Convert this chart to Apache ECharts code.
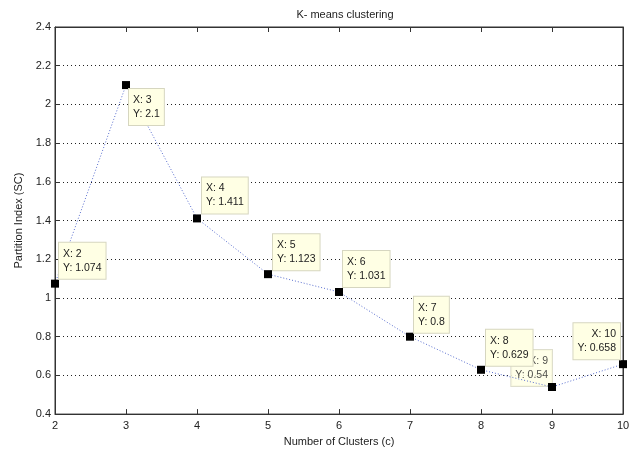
<!DOCTYPE html>
<html>
<head>
<meta charset="utf-8">
<script src="https://cdn.jsdelivr.net/npm/echarts@6/dist/echarts.min.js"></script>
<style>
  html, body { margin: 0; padding: 0; background: #fff; }
  #chart { width: 638px; height: 452px; }
</style>
</head>
<body>
<div id="chart"></div>
<script>
// Number of clusters and partition index values
const clusters = [2, 3, 4, 5, 6, 7, 8, 9, 10];
const partitionIndex = [1.074, 2.1, 1.411, 1.123, 1.031, 0.8, 0.629, 0.54, 0.658];

// Axis ranges
const xRange = [2, 10];
const yRange = [0.4, 2.4];

// Where each data tip sits relative to its marker
const tipPlacement = {
  2: { pos: [8, -37], align: 'left' },
  3: { pos: [7, 8], align: 'left' },
  4: { pos: [9, -37], align: 'left' },
  5: { pos: [9, -36], align: 'left' },
  6: { pos: [8, -37], align: 'left' },
  7: { pos: [8, -36], align: 'left' },
  8: { pos: [9, -36], align: 'left' },
  9: { pos: [0, -37], align: 'right' },
  10: { pos: [1, -37], align: 'right' }
};

const FONT = 'Liberation Sans, Arial, sans-serif';

function tipLabel(x) {
  const t = tipPlacement[x];
  return {
    show: true,
    position: t.pos,
    align: t.align,
    verticalAlign: 'top',
    formatter: p => 'X: ' + p.value[0] + '\nY: ' + p.value[1],
    fontFamily: FONT,
    fontSize: 10.5,
    lineHeight: 14,
    color: '#222',
    backgroundColor: '#ffffe4',
    borderColor: '#d6d6c0',
    borderWidth: 1,
    padding: [4, 4, 4, 4]
  };
}

const mainData = [];
const lowData = [];
clusters.forEach((c, i) => {
  const item = { value: [c, partitionIndex[i]], label: tipLabel(c) };
  if (c === 9) {
    // this tip is tucked underneath its neighbour's tip
    mainData.push({ value: [c, partitionIndex[i]], label: { show: false } });
    lowData.push(item);
  } else {
    mainData.push(item);
  }
});

const chart = echarts.init(document.getElementById('chart'), null, { renderer: 'canvas' });

const axisLineStyle = { show: true, lineStyle: { color: '#333', width: 1 } };

chart.setOption({
  animation: false,
  backgroundColor: '#fff',
  title: {
    text: 'K- means clustering',
    left: 340,
    textAlign: 'center',
    top: 4,
    textStyle: { fontFamily: FONT, fontSize: 11, fontWeight: 'normal', color: '#222' }
  },
  grid: {
    left: 55, right: 15, top: 27, bottom: 36,
    show: true, borderColor: '#333', borderWidth: 1, backgroundColor: 'transparent'
  },
  xAxis: [
    {
      type: 'value', min: xRange[0], max: xRange[1], interval: 1,
      name: 'Number of Clusters (c)', nameLocation: 'middle', nameGap: 21,
      nameTextStyle: { fontFamily: FONT, fontSize: 11, color: '#222' },
      axisLine: axisLineStyle,
      axisTick: { show: true, inside: true, length: 5, lineStyle: { color: '#333' } },
      axisLabel: { fontFamily: FONT, fontSize: 11, color: '#222', margin: 6 },
      splitLine: { show: false }
    },
    {
      type: 'value', position: 'top', min: xRange[0], max: xRange[1], interval: 1,
      axisLine: axisLineStyle,
      axisTick: { show: true, inside: true, length: 5, lineStyle: { color: '#333' } },
      axisLabel: { show: false },
      splitLine: { show: false }
    }
  ],
  yAxis: [
    {
      type: 'value', min: yRange[0], max: yRange[1], interval: 0.2,
      name: 'Partition Index (SC)', nameLocation: 'middle', nameGap: 31,
      nameTextStyle: { fontFamily: FONT, fontSize: 11, color: '#222' },
      axisLine: axisLineStyle,
      axisTick: { show: true, inside: true, length: 5, lineStyle: { color: '#333' } },
      axisLabel: { fontFamily: FONT, fontSize: 11, color: '#222', margin: 4 },
      splitLine: { show: true, lineStyle: { color: '#222', type: [1, 3], width: 1 } }
    },
    {
      type: 'value', position: 'right', min: yRange[0], max: yRange[1], interval: 0.2,
      axisLine: axisLineStyle,
      axisTick: { show: true, inside: true, length: 5, lineStyle: { color: '#333' } },
      axisLabel: { show: false },
      splitLine: { show: false }
    }
  ],
  series: [
    {
      type: 'scatter',
      z: 2,
      symbolSize: 0,
      data: lowData
    },
    {
      type: 'line',
      z: 3,
      data: mainData,
      symbol: 'rect',
      symbolSize: 8,
      showAllSymbol: true,
      itemStyle: { color: '#000' },
      lineStyle: { color: '#5a6fd0', width: 1, type: [1, 2] }
    }
  ]
});
</script>
</body>
</html>
